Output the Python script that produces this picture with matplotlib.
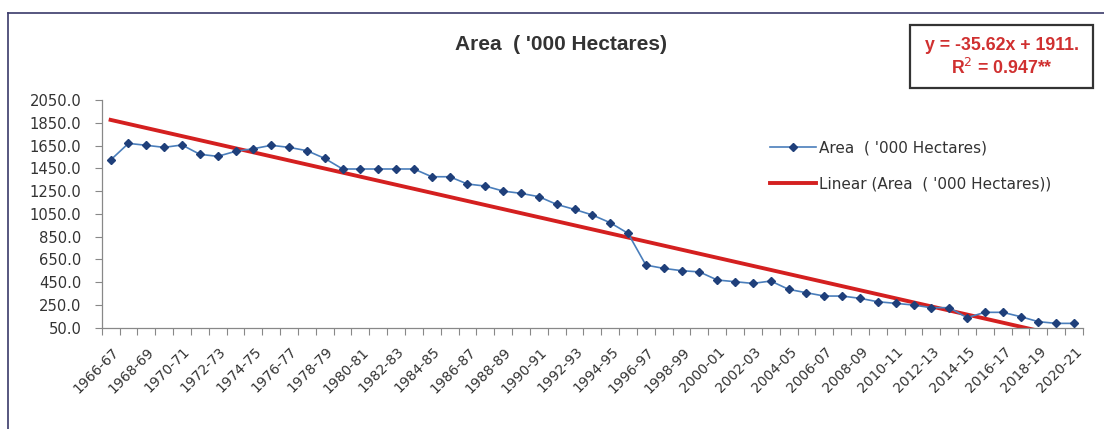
import matplotlib
matplotlib.use("Agg")
import matplotlib.pyplot as plt
import numpy as np
from matplotlib.lines import Line2D
from matplotlib.patches import Rectangle
import matplotlib.transforms as mtransforms

start_years = list(range(1966, 2021))
categories = [f"{y}-{str(y + 1)[-2:]}" for y in start_years]

area = [1523, 1669, 1652, 1634, 1655, 1573, 1555, 1599, 1622, 1652,
        1634, 1605, 1537, 1444, 1444, 1444, 1444, 1444, 1376, 1376,
        1312, 1294, 1250, 1230, 1201, 1133, 1089, 1040, 972, 879,
        600, 571, 551, 540, 469, 454, 439, 460, 387, 357,
        328, 328, 308, 278, 264, 249, 226, 226, 138, 185,
        185, 147, 103, 88, 88]

trend_slope = -35.62
trend_intercept = 1911.0
r_squared = 0.947

y_ticks = list(range(50, 2051, 200))

plt.rcParams['font.family'] = ['DejaVu Sans']

W, H = 1104, 429
fig = plt.figure(figsize=(W / 100, H / 100), dpi=100)
ax = fig.add_axes([101.7 / W, 1 - 327.7 / H, (1083 - 101.7) / W, 227.7 / H])

x = np.arange(len(area))
ax.plot(x, area, color='#4A7EBB', lw=1.2, marker='D', ms=4,
        mfc='#1F3F7A', mec='#1F3F7A', zorder=3)
trend_x = np.array([x[0], x[-1]])
ax.plot(trend_x, trend_slope * (trend_x + 1) + trend_intercept,
        color='#D42020', lw=2.8, zorder=2)

ax.set_xlim(-0.5, len(area) - 0.5)
ax.set_ylim(50, 2050)
ax.set_yticks(y_ticks)
ax.set_yticklabels([f"{v:.1f}" for v in y_ticks], fontsize=10.6, color='#333333')

ax.set_xticks(np.arange(-0.5, len(area), 1.0))
ax.set_xticklabels([])
ax.tick_params(axis='x', length=5, color='#888888', width=0.8)
ax.tick_params(axis='y', length=5, color='#888888', width=0.8, pad=9.5)

lab_trans = mtransforms.blended_transform_factory(ax.transData, ax.transAxes)
for i in range(0, len(categories), 2):
    ax.text(i + 0.05, -0.075, categories[i], rotation=45, ha='right', va='top',
            rotation_mode='anchor', fontsize=10, color='#333333',
            transform=lab_trans, clip_on=False)

for s in ['top', 'right']:
    ax.spines[s].set_visible(False)
for s in ['left', 'bottom']:
    ax.spines[s].set_color('#888888')
    ax.spines[s].set_linewidth(0.9)

fig.text(561 / W, 1 - 45 / H, "Area  ( '000 Hectares)", ha='center', va='center',
         fontsize=15, fontweight='bold', color='#333333', family='Liberation Sans')

handles = [Line2D([], [], color='#4A7EBB', lw=1.2, marker='D', ms=4,
                  mfc='#1F3F7A', mec='#1F3F7A'),
           Line2D([], [], color='#D42020', lw=2.8)]
fig.legend(handles, ["Area  ( '000 Hectares)", "Linear (Area  ( '000 Hectares))"],
           loc='upper left', bbox_to_anchor=(756 / W, 1 - 127 / H), frameon=False,
           fontsize=11, handlelength=3.0, labelspacing=1.35, handletextpad=0.25,
           labelcolor='#333333')

# equation box
fig.patches.append(Rectangle((910 / W, 1 - 88 / H), 183 / W, 63 / H,
                             transform=fig.transFigure, fill=False,
                             edgecolor='#333333', lw=1.6))
fig.text(1002 / W, 1 - 46 / H, f"y = {trend_slope}x + {int(trend_intercept)}.",
         ha='center', va='center', fontsize=12.8, fontweight='bold', color='#D03030',
         family='Liberation Sans')
fig.text(1002 / W, 1 - 68 / H, f"R$^2$ = {r_squared}**",
         ha='center', va='center', fontsize=12.8, fontweight='bold', color='#D03030',
         family='Liberation Sans')

# outer frame (left and top visible)
fig.add_artist(Line2D([8 / W, 8 / W], [0, 1 - 13 / H], transform=fig.transFigure,
                      color='#3A3A6A', lw=1.2))
fig.add_artist(Line2D([8 / W, 1], [1 - 13 / H, 1 - 13 / H], transform=fig.transFigure,
                      color='#3A3A6A', lw=1.2))

fig.savefig("out.png", dpi=100)
